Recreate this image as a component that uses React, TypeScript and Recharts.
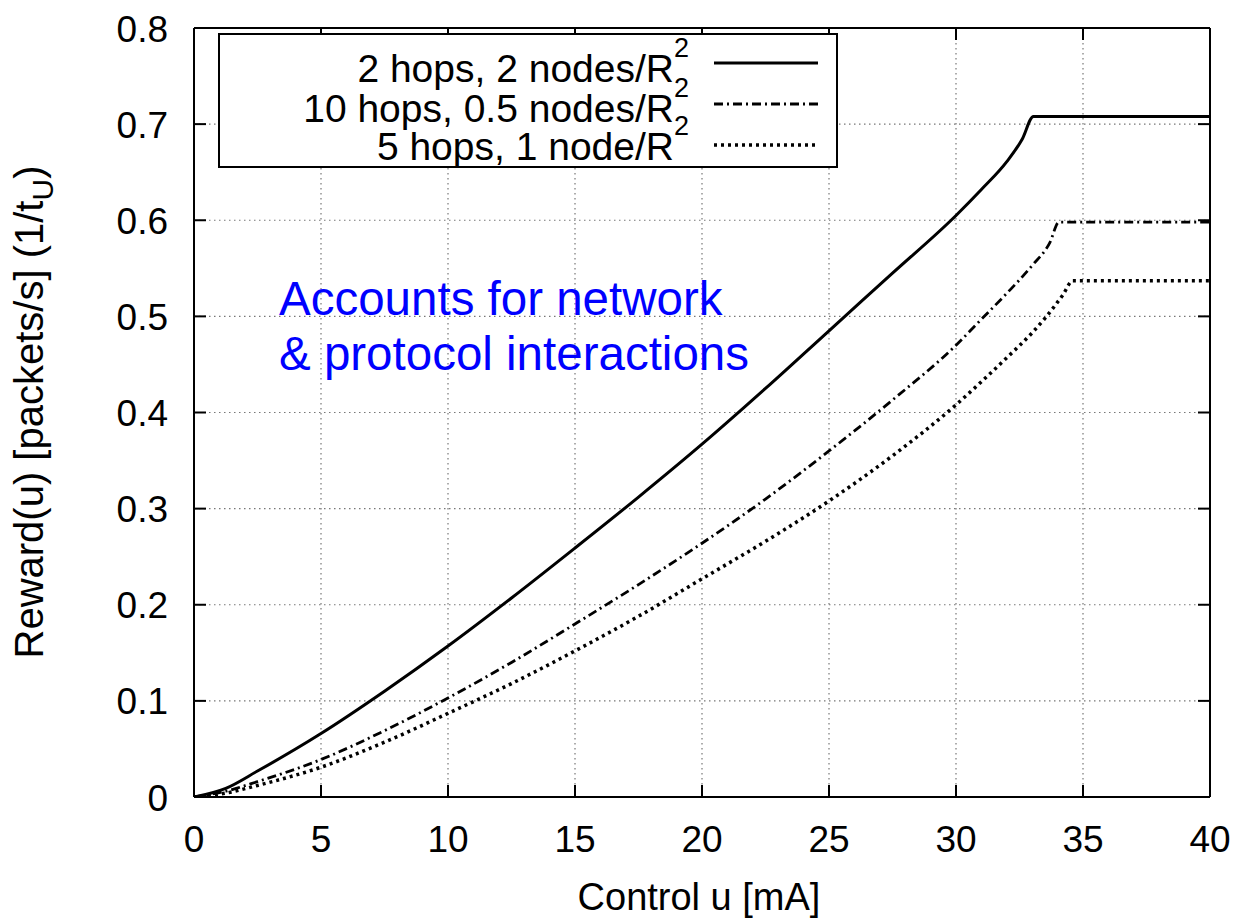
import { LineChart, Line, XAxis, YAxis, CartesianGrid, Legend } from 'recharts';

const FONT = '"Liberation Sans", Arial, Helvetica, sans-serif';

// x ticks / y ticks
const xTicks = [0, 5, 10, 15, 20, 25, 30, 35, 40];
const yTicks = [0, 0.1, 0.2, 0.3, 0.4, 0.5, 0.6, 0.7, 0.8];

// 2 hops, 2 nodes/R^2 (solid)
const uSolid = [0, 1.25, 2.5, 5, 7.5, 10, 12.5, 15, 17.5, 20, 22.5, 25, 27.5, 30, 31, 32, 32.6, 33.05, 40];
const rSolid = [0, 0.009, 0.027, 0.066, 0.11, 0.157, 0.207, 0.259, 0.312, 0.367, 0.425, 0.485, 0.545, 0.605, 0.632, 0.661, 0.684, 0.708, 0.708];

// 10 hops, 0.5 nodes/R^2 (dash-dot)
const uDashDot = [0, 1.25, 2.5, 5, 7.5, 10, 12.5, 15, 17.5, 20, 22.5, 25, 27.5, 30, 31, 32, 33, 33.7, 34.05, 40];
const rDashDot = [0, 0.006, 0.016, 0.039, 0.069, 0.103, 0.14, 0.18, 0.221, 0.264, 0.31, 0.36, 0.413, 0.47, 0.497, 0.524, 0.553, 0.577, 0.598, 0.598];

// 5 hops, 1 node/R^2 (dotted)
const uDotted = [0, 1.25, 2.5, 5, 7.5, 10, 12.5, 15, 17.5, 20, 22.5, 25, 27.5, 30, 31, 32, 33, 33.5, 34.2, 34.6, 40];
const rDotted = [0, 0.004, 0.012, 0.031, 0.057, 0.087, 0.118, 0.152, 0.188, 0.227, 0.266, 0.308, 0.355, 0.408, 0.432, 0.457, 0.483, 0.498, 0.522, 0.537, 0.537];

const toRows = (us: number[], rs: number[]) => us.map((u, i) => ({ u, r: rs[i] }));

const series = [
  { name: '2 hops, 2 nodes/R', data: toRows(uSolid, rSolid), dash: undefined as string | undefined, width: 3 },
  { name: '10 hops, 0.5 nodes/R', data: toRows(uDashDot, rDashDot), dash: '9 4 2 4', width: 2.8 },
  { name: '5 hops, 1 node/R', data: toRows(uDotted, rDotted), dash: '3 4', width: 3.5 },
];

const fmtY = (v: number) => (v === 0 ? '0' : v.toFixed(1));

const BottomTick = ({ x, y, payload }: any) => (
  <g>
    <line x1={x} y1={y} x2={x} y2={y - 12} stroke="#000" strokeWidth={2} />
    <text x={x} y={y + 55} textAnchor="middle" fontSize={37} fontFamily={FONT} fill="#000">
      {payload.value}
    </text>
  </g>
);

const TopTick = ({ x, y }: any) => (
  <line x1={x} y1={y} x2={x} y2={y + 12} stroke="#000" strokeWidth={2} />
);

const LeftTick = ({ x, y, payload }: any) => (
  <g>
    <line x1={x} y1={y} x2={x + 12} y2={y} stroke="#000" strokeWidth={2} />
    <text x={x - 26} y={y + 13.5} textAnchor="end" fontSize={37} fontFamily={FONT} fill="#000">
      {fmtY(payload.value)}
    </text>
  </g>
);

const RightTick = ({ x, y }: any) => (
  <line x1={x} y1={y} x2={x - 12} y2={y} stroke="#000" strokeWidth={2} />
);

const legendLineY = [28, 69, 110];
const legendTextY = [47, 87, 125];

const LegendBox = () => (
  <div
    style={{
      width: 620,
      height: 135,
      border: '2px solid #000',
      background: '#fff',
      boxSizing: 'border-box',
    }}
  >
    <svg width={616} height={131} style={{ display: 'block', overflow: 'visible' }}>
      {series.map((s, i) => (
        <g key={s.name}>
          <text x={469} y={legendTextY[i]} textAnchor="end" fontSize={39} fontFamily={FONT} fill="#000">
            {s.name}
            <tspan dy={-25} fontSize={27}>2</tspan>
          </text>
          <line
            x1={494}
            x2={598}
            y1={legendLineY[i]}
            y2={legendLineY[i]}
            stroke="#000"
            strokeWidth={s.width}
            strokeDasharray={s.dash}
          />
        </g>
      ))}
    </svg>
  </div>
);

export default function App() {
  return (
    <div style={{ position: 'absolute', left: 0, top: 0, width: 1240, height: 922, background: '#fff' }}>
      <LineChart width={1240} height={922} margin={{ top: 0, right: 0, bottom: 0, left: 0 }}>
        <CartesianGrid
          xAxisId="b"
          yAxisId="l"
          stroke="#777"
          strokeWidth={1.2}
          strokeDasharray="1.5 3.5"
          horizontalValues={yTicks}
          verticalValues={xTicks}
        />
        <XAxis
          xAxisId="b"
          dataKey="u"
          type="number"
          domain={[0, 40]}
          ticks={xTicks}
          allowDataOverflow
          height={125}
          tickLine={false}
          tickSize={0}
          tickMargin={0}
          tick={<BottomTick />}
          axisLine={{ stroke: '#000', strokeWidth: 2 }}
        />
        <XAxis
          xAxisId="t"
          orientation="top"
          dataKey="u"
          type="number"
          domain={[0, 40]}
          ticks={xTicks}
          allowDataOverflow
          height={28}
          tickLine={false}
          tickSize={0}
          tickMargin={0}
          tick={<TopTick />}
          axisLine={{ stroke: '#000', strokeWidth: 2 }}
        />
        <YAxis
          yAxisId="l"
          type="number"
          domain={[0, 0.8]}
          ticks={yTicks}
          allowDataOverflow
          width={194}
          tickLine={false}
          tickSize={0}
          tickMargin={0}
          tick={<LeftTick />}
          axisLine={{ stroke: '#000', strokeWidth: 2 }}
        />
        <YAxis
          yAxisId="r"
          orientation="right"
          type="number"
          domain={[0, 0.8]}
          ticks={yTicks}
          allowDataOverflow
          width={30}
          tickLine={false}
          tickSize={0}
          tickMargin={0}
          tick={<RightTick />}
          axisLine={{ stroke: '#000', strokeWidth: 2 }}
        />
        {series.map((s) => (
          <Line
            key={s.name}
            xAxisId="b"
            yAxisId="l"
            data={s.data}
            dataKey="r"
            name={s.name}
            type="monotone"
            stroke="#000"
            strokeWidth={s.width}
            strokeDasharray={s.dash}
            dot={false}
            activeDot={false}
            isAnimationActive={false}
          />
        ))}
        <Legend
          layout="horizontal"
          align="center"
          verticalAlign="middle"
          content={() => <LegendBox />}
          wrapperStyle={{ position: 'absolute', left: 218, top: 33, width: 620, height: 135 }}
        />
      </LineChart>
      <svg
        width={1240}
        height={922}
        style={{ position: 'absolute', left: 0, top: 0, pointerEvents: 'none' }}
      >
        <text x={699} y={910} textAnchor="middle" fontSize={38} fontFamily={FONT} fill="#000">
          Control u [mA]
        </text>
        <text
          transform="translate(43,412) rotate(-90)"
          textAnchor="middle"
          fontSize={40}
          fontFamily={FONT}
          fill="#000"
        >
          Reward(u) [packets/s] (1/t
          <tspan dy={10} fontSize={30}>U</tspan>
          <tspan dy={-10}>)</tspan>
        </text>
        <text x={279} y={315} fontSize={47.5} fontFamily={FONT} fill="#0000ff">
          Accounts for network
        </text>
        <text x={279} y={370} fontSize={47.5} fontFamily={FONT} fill="#0000ff">
          &amp; protocol interactions
        </text>
      </svg>
    </div>
  );
}
